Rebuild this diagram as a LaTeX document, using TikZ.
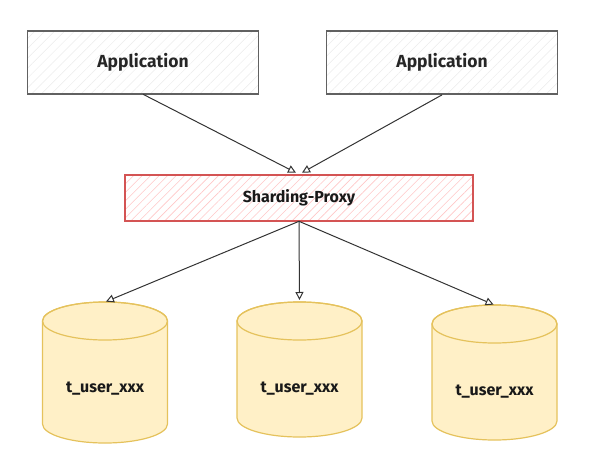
\documentclass[tikz,border=0pt]{standalone}
\usepackage{fontspec}
\setmainfont{Fira Sans}
\usetikzlibrary{arrows.meta,patterns.meta}
\definecolor{AppClr}{rgb}{0.38,0.38,0.38}
\definecolor{ProxyClr}{rgb}{0.83,0.33,0.33}
\definecolor{HatchClr}{rgb}{1,0.78,0.78}
\definecolor{DbClr}{rgb}{0.9,0.76,0.36}
\definecolor{DbFill}{rgb}{1,0.94,0.78}
\definecolor{ArrClr}{rgb}{0.2,0.2,0.2}

\begin{document}
\begin{tikzpicture}[x=1pt,y=-1pt,
  appbox/.style={draw=AppClr,line width=1.8pt,minimum width=231pt,minimum height=63pt,
    pattern={Lines[angle=45,distance=7pt,line width=0.5pt]},pattern color=black!8,
    font=\fontsize{17.5}{20}\selectfont\bfseries,text=black!85},
  proxybox/.style={draw=ProxyClr,line width=1.2pt,minimum width=348pt,minimum height=46pt,
    pattern={Lines[angle=45,distance=6pt,line width=0.6pt]},pattern color=HatchClr,
    font=\fontsize{16}{19}\selectfont\bfseries,text=black!90},
  dbbody/.style={draw=DbClr,line width=1.2pt,fill=DbFill,line join=round},
  dblabel/.style={font=\fontsize{16}{19}\selectfont\bfseries,text=black!90},
  conn/.style={draw=ArrClr,line width=1pt,-{Triangle[open,length=8pt,width=8pt]}}]

\useasboundingbox (0,0) rectangle (596,462);

\node[appbox] (app1) at (143,62.5) {Application};
\node[appbox] (app2) at (442,62.5) {Application};
\node[proxybox] (proxy) at (299,198) {Sharding-Proxy};

% databases
\foreach \n/\cx/\cy/\h in {1/105/321/103,2/299.5/321/97,3/494.5/324/97}{
  \draw[dbbody] (\cx-62.5,\cy) -- (\cx-62.5,\cy+\h)
    arc[start angle=180,end angle=360,x radius=62.5pt,y radius=19pt]
    -- (\cx+62.5,\cy)
    arc[start angle=0,end angle=180,x radius=62.5pt,y radius=19pt] -- cycle;
  \draw[dbbody,fill=none] (\cx,\cy) ellipse[x radius=62.5pt,y radius=19pt];
  \coordinate (db\n) at (\cx,\cy-19);
  \node[dblabel] (t\n) at (\cx,\cy+68) {t\_user\_xxx};
}

\draw[conn] (app1.south) -- ([xshift=-3pt,yshift=2pt]proxy.north);
\draw[conn] (app2.south) -- ([xshift=3pt,yshift=2pt]proxy.north);

\draw[conn,shorten >=1pt] (proxy.south) -- (db1);
\draw[conn,shorten >=2pt] (proxy.south) -- (db2);
\draw[conn,shorten >=1pt] (proxy.south) -- (db3);

\end{tikzpicture}
\end{document}
